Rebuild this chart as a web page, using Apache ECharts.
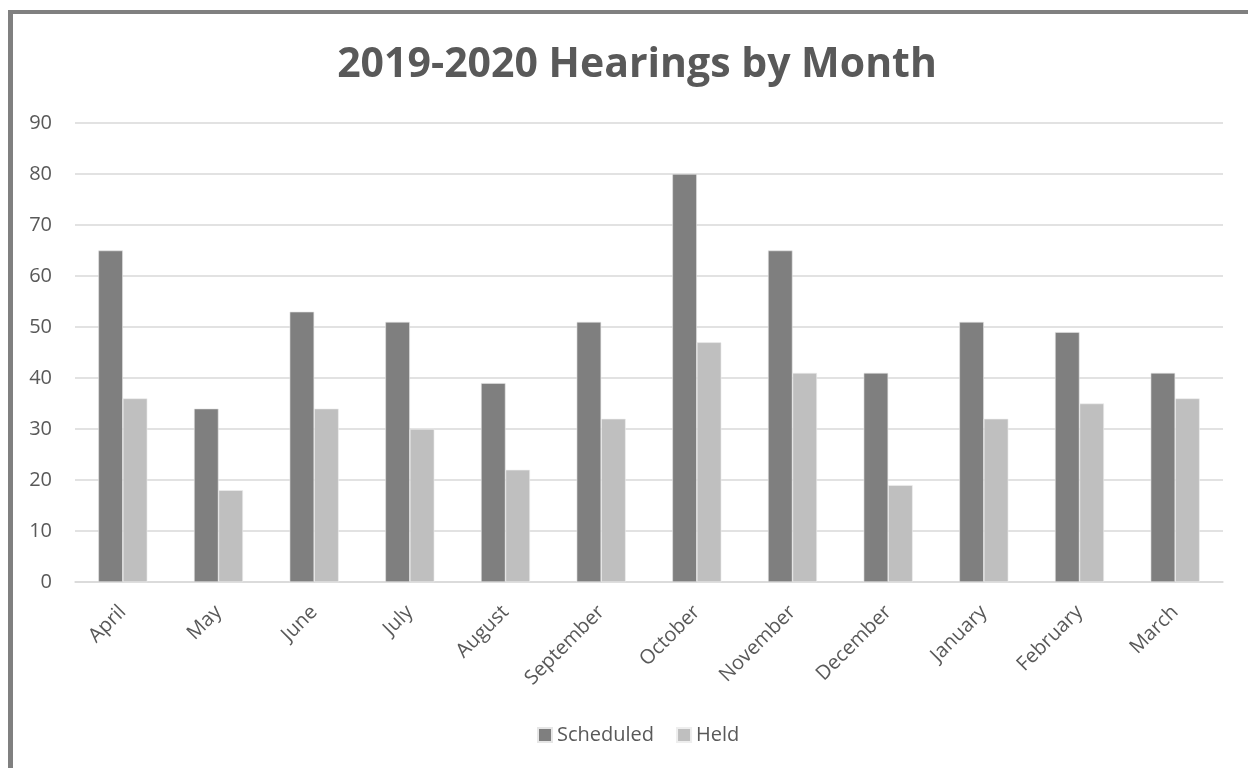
<!DOCTYPE html>
<html>
<head>
<meta charset="utf-8">
<script src="https://cdn.jsdelivr.net/npm/echarts@6/dist/echarts.min.js"></script>
<style>
  html, body { margin: 0; padding: 0; background: #fff; }
  #chart { width: 1248px; height: 768px; }
</style>
</head>
<body>
<div id="chart"></div>
<script>
var months    = ['April', 'May', 'June', 'July', 'August', 'September', 'October', 'November', 'December', 'January', 'February', 'March']
var scheduled = [65, 34, 53, 51, 39, 51, 80, 65, 41, 51, 49, 41]
var held      = [36, 18, 34, 30, 22, 32, 47, 41, 19, 32, 35, 36]

var textColor = '#595959'
var font = "'Open Sans', 'Noto Sans', sans-serif"

var chart = echarts.init(document.getElementById('chart'))
var option = {
    animation: false,
    title: {
        text: '2019-2020 Hearings by Month',
        left: 632, top: 40, textAlign: 'center',
        textStyle: { fontFamily: font, fontSize: 41, fontWeight: 'bold', color: textColor }
    },
    // 外框（只露出左边和上边）
    graphic: [
        { type: 'rect', shape: { x: 8, y: 10, width: 5, height: 758 }, style: { fill: '#808080' } },
        { type: 'rect', shape: { x: 8, y: 10, width: 1240, height: 4 }, style: { fill: '#808080' } }
    ],
    legend: {
        data: ['Scheduled', 'Held'],
        left: 532, top: 720,
        itemWidth: 14, itemHeight: 14, itemGap: 22,
        icon: 'rect',
        textStyle: { fontFamily: font, fontSize: 20, color: textColor }
    },
    grid: { left: 75, right: 25, top: 123, bottom: 186 },
    xAxis: {
        type: 'category',
        data: months,
        axisLine: { lineStyle: { color: '#d9d9d9', width: 1.5 } },
        axisTick: { show: false },
        axisLabel: { rotate: 45, margin: 27, fontFamily: font, fontSize: 20, color: textColor, interval: 0 }
    },
    yAxis: {
        type: 'value',
        min: 0, max: 90, interval: 10,
        axisLine: { show: false },
        axisTick: { show: false },
        splitLine: { lineStyle: { color: '#d9d9d9', width: 1.5 } },
        axisLabel: { margin: 23, fontFamily: font, fontSize: 20, color: textColor }
    },
    series: [
        {
            name: 'Scheduled', type: 'bar', data: scheduled,
            barWidth: 24.5, barGap: '0%',
            itemStyle: { color: '#7f7f7f', borderColor: '#e6e6e6', borderWidth: 0.6 }
        },
        {
            name: 'Held', type: 'bar', data: held,
            barWidth: 24.5, barGap: '0%',
            itemStyle: { color: '#bfbfbf', borderColor: '#eeeeee', borderWidth: 0.6 }
        }
    ]
}
chart.setOption(option)
</script>
</body>
</html>
